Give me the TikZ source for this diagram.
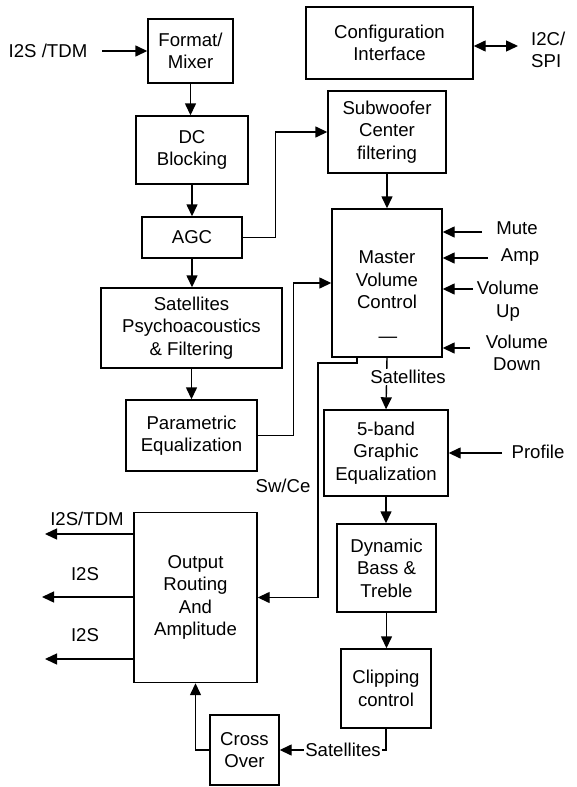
\documentclass[tikz,border=0pt]{standalone}
\usepackage{fontspec}
\setmainfont{Liberation Sans}
\usetikzlibrary{arrows.meta,calc}
\begin{document}
\begin{tikzpicture}[x=1pt,y=-1pt,
  txt/.style={font=\fontsize{18.6}{22.5}\selectfont},
  blk/.style={draw,line width=1.4pt,align=center,inner sep=0pt,txt},
  lbl/.style={align=center,inner sep=0pt,txt},
  conn/.style={line width=1.4pt},
  arr/.style={conn,-{Triangle[length=12pt,width=11pt]}},
  darr/.style={conn,{Triangle[length=12pt,width=11pt]}-{Triangle[length=12pt,width=11pt]}}
]
\useasboundingbox (0,0) rectangle (577,787);

% left column
\node[blk,minimum width=85pt,minimum height=64pt] (fmt) at (190.5,51) {Format/\\Mixer};
\node[blk,minimum width=112pt,minimum height=68pt] (dc) at (192,150) {DC\\Blocking};
\node[blk,minimum width=100pt,minimum height=41pt] (agc) at (192,237.5) {AGC};
\node[blk,minimum width=181pt,minimum height=80pt] (sat) at (191.5,328) {Satellites\\Psychoacoustics\\\& Filtering};
\node[blk,minimum width=131pt,minimum height=71pt] (peq) at (191.5,435.5) {Parametric\\Equalization};
\node[blk,minimum width=123pt,minimum height=170pt] (out) at (195.5,597.5) {Output\\Routing\\And\\Amplitude};
\node[blk,minimum width=69pt,minimum height=70pt] (cross) at (244.5,750) {Cross\\Over};

% right column
\node[blk,minimum width=167pt,minimum height=72pt] (cfg) at (389.5,43) {Configuration\\Interface};
\node[blk,minimum width=118pt,minimum height=82pt] (sub) at (387,132) {Subwoofer\\Center\\filtering};
\node[blk,minimum width=110pt,minimum height=148pt] (mvc) at (387,283) {};
\node[lbl] (mvct) at (387,280) {Master\\Volume\\Control};
\node[lbl] (mvcd) at (388,340) {—};
\node[blk,minimum width=124pt,minimum height=86pt] (geq) at (386,453) {5-band\\Graphic\\Equalization};
\node[blk,minimum width=99pt,minimum height=88pt] (dbt) at (386.5,568) {Dynamic\\Bass \&\\Treble};
\node[blk,minimum width=90pt,minimum height=79pt] (clip) at (386,688.5) {Clipping\\control};

% external labels
\node[lbl] (in) at (48,51) {I2S /TDM};
\node[lbl,align=left,anchor=west] (i2c) at (531,50) {I2C/\\SPI};
\node[lbl] (mute) at (517,228) {Mute};
\node[lbl] (amp) at (520,257) {Amp};
\node[lbl] (vup) at (508,301) {Volume\\Up};
\node[lbl] (vdn) at (517,353) {Volume\\Down};
\node[lbl] (prof) at (538,452) {Profile};
\node[lbl] (swce) at (283,486) {Sw/Ce};
\node[lbl] (o1) at (87,519) {I2S/TDM};
\node[lbl] (o2) at (85,574) {I2S};
\node[lbl] (o3) at (85,635) {I2S};

% coordinates
\coordinate (inS) at (102,51);
\coordinate (i2cE) at (518,46);
\coordinate (muteS) at (482,232);
\coordinate (ampS) at (488,258);
\coordinate (vupS) at (473,289);
\coordinate (vdnS) at (470,348);
\coordinate (profS) at (502,453);
\coordinate (o1E) at (45,534);
\coordinate (o2E) at (42,597);
\coordinate (o3E) at (45,659);
\coordinate (swc) at (318,363);

% connectors
\draw[arr] (inS) -- (fmt.west);
\draw[arr] (fmt.south) -- (fmt.south |- dc.north);
\draw[arr] (dc.south) -- (agc.north);
\draw[arr] (agc.south) -- (agc.south |- sat.north);
\draw[arr] (sat.south) -- (peq.north);
\draw[arr] (agc.east) -- ++(33,0) |- (sub.west);
\draw[darr] (cfg.east |- i2cE) -- (i2cE);
\draw[arr] (sub.south) -- (mvc.north);
\draw[arr] (peq.east) -- ++(36,0) |- (mvc.west);
\draw[arr] (muteS) -- (mvc.east |- muteS);
\draw[arr] (ampS) -- (mvc.east |- ampS);
\draw[arr] (vupS) -- (mvc.east |- vupS);
\draw[arr] (vdnS) -- (mvc.east |- vdnS);
\draw[arr] (mvc.south) -- (geq.north);
\node[lbl,fill=white,inner sep=1pt] (satl1) at (408,377) {Satellites};
\draw[arr] ([xshift=-30pt]mvc.south) |- (swc) |- (out.east);
\draw[arr] (profS) -- (geq.east |- profS);
\draw[arr] (geq.south) -- (geq.south |- dbt.north);
\draw[arr] (dbt.south) -- (dbt.south |- clip.north);
\draw[arr] (clip.south) |- (cross.east);
\node[lbl,fill=white,inner sep=1pt] (satl2) at (343,750) {Satellites};
\draw[arr] (cross.west) -| (out.south);
\draw[arr] (out.west |- o1E) -- (o1E);
\draw[arr] (out.west |- o2E) -- (o2E);
\draw[arr] (out.west |- o3E) -- (o3E);
\end{tikzpicture}
\end{document}
